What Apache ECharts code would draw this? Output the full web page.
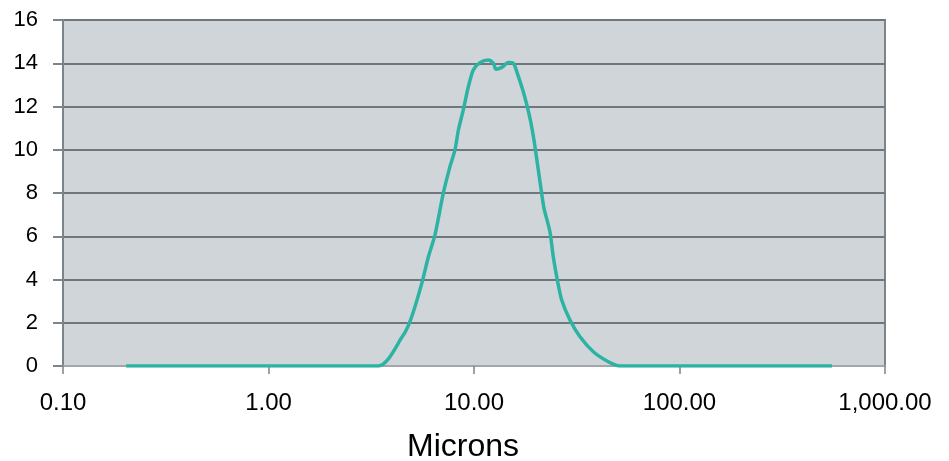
<!DOCTYPE html>
<html>
<head>
<meta charset="utf-8">
<script src="https://cdn.jsdelivr.net/npm/echarts@6/dist/echarts.min.js"></script>
<style>
html,body{margin:0;padding:0;background:#fff;}
#chart{width:949px;height:461px;}
</style>
</head>
<body>
<div id="chart"></div>
<script>
// Particle size (microns) and volume values
const microns = [0.203, 3.42, 4.53, 4.84, 5.16, 5.57, 6.00, 6.46, 7.09, 7.64, 8.08, 8.39, 8.87, 9.38, 9.92, 10.69, 11.74, 12.42, 12.8, 13.65, 14.70, 15.54, 16.25, 17.27, 18.17, 18.87, 19.58, 20.18, 21.34, 21.91, 23.42, 24.31, 25.43, 26.71, 29.31, 32.8, 38.07, 45.03, 51.3, 552];
const values  = [0, 0, 1.43, 1.97, 2.74, 3.82, 5.05, 6.06, 7.99, 9.22, 9.99, 10.9, 11.84, 12.9, 13.69, 14.03, 14.15, 14.0, 13.72, 13.81, 14.03, 14.0, 13.53, 12.76, 11.99, 11.3, 10.45, 9.6, 7.99, 7.29, 6.21, 5.05, 3.98, 3.05, 2.13, 1.35, 0.66, 0.2, 0, 0];
const xTicks = [0.1, 1, 10, 100, 1000];
const yTicks = [0, 2, 4, 6, 8, 10, 12, 14, 16];
const xTitle = 'Microns';

const chart = echarts.init(document.getElementById('chart'));
const font = 'Liberation Sans, Arial, sans-serif';
chart.setOption({
  animation: false,
  grid: {
    left: 63, right: 64, top: 20, bottom: 95,
    show: true, backgroundColor: '#d0d5d9',
    borderColor: '#7b848b', borderWidth: 2
  },
  xAxis: {
    type: 'log', logBase: 10,
    min: xTicks[0], max: xTicks[xTicks.length - 1],
    axisLine: { show: true, lineStyle: { color: '#a2a6a9', width: 2 } },
    axisTick: { show: true, length: 8, lineStyle: { color: '#7b848b', width: 1.5 } },
    minorTick: { show: false },
    splitLine: { show: false },
    axisLabel: {
      margin: 25, color: '#000', fontSize: 24, fontFamily: font,
      formatter: v => Number(v).toLocaleString('en-US', { minimumFractionDigits: 2, maximumFractionDigits: 2 })
    }
  },
  yAxis: {
    type: 'value', min: yTicks[0], max: yTicks[yTicks.length - 1], interval: 2,
    axisLine: { show: true, lineStyle: { color: '#7b848b', width: 2 } },
    axisTick: { show: true, length: 10, lineStyle: { color: '#7b848b', width: 2 } },
    splitLine: { show: true, lineStyle: { color: '#6f777e', width: 2 } },
    axisLabel: { margin: 25, color: '#000', fontSize: 22, fontFamily: font }
  },
  graphic: [{
    type: 'text', x: 463, y: 431,
    style: { text: xTitle, fill: '#000', font: '32px ' + font, textAlign: 'center' }
  }],
  series: [{
    type: 'line',
    data: microns.map((m, i) => [m, values[i]]),
    smooth: 0.25,
    showSymbol: false,
    lineStyle: { color: '#2db3a3', width: 3.5 },
    z: 5
  }]
});
</script>
</body>
</html>
